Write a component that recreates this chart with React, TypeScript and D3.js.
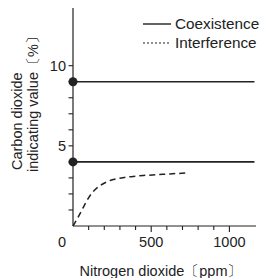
import React from "react";
import * as d3 from "d3";

const coexistenceLevels = [9, 4];
const interferenceX = [0, 30, 60, 90, 120, 150, 173, 205, 237, 280, 330, 385, 450, 538, 620, 718];
const interferenceY = [0, 0.5, 1.05, 1.6, 2.05, 2.35, 2.52, 2.7, 2.84, 2.95, 3.03, 3.09, 3.15, 3.2, 3.25, 3.3];
const xTickMajor = [0, 500, 1000];
const xTickMinor = [100, 200, 300, 400, 600, 700, 800, 900];
const yTickMajor = [5, 10];
const yTickMinor = [1, 2, 3, 4, 6, 7, 8, 9];
const legendLabels = ["Coexistence", "Interference"];

const W = 264;
const H = 278;
const FONT = "'Liberation Sans', Arial, sans-serif";
const FS = 14.5;
const INK = "#222";

export default function App() {
  const x = d3.scaleLinear().domain([0, 1170]).range([73, 256]);
  const y = d3.scaleLinear().domain([0, 13.6]).range([226, 8]);

  const curveData: [number, number][] = interferenceX.map((v, i) => [v, interferenceY[i]]);
  const linePath = d3
    .line<[number, number]>()
    .x((d) => x(d[0]))
    .y((d) => y(d[1]))
    .curve(d3.curveMonotoneX)(curveData) as string;

  const lineEnd = 1160;

  return (
    <svg
      width={W}
      height={H}
      style={{ position: "absolute", left: 0, top: 0, background: "#fff" }}
      fontFamily={FONT}
    >
      <rect x={0} y={0} width={W} height={H} fill="#fff" />
      {/* axes */}
      <line x1={x(0)} x2={x(0)} y1={y(0)} y2={y(13.6)} stroke={INK} strokeWidth={1.2} />
      <line x1={x(0)} x2={x(1170)} y1={y(0)} y2={y(0)} stroke={INK} strokeWidth={1.2} />
      {yTickMinor.concat(yTickMajor).map((t) => (
        <line key={"yt" + t} x1={x(0) - 4.5} x2={x(0)} y1={y(t)} y2={y(t)} stroke={INK} strokeWidth={1.1} />
      ))}
      {yTickMajor.map((t) => (
        <text key={"yl" + t} x={x(0) - 7} y={y(t)} dy="0.36em" textAnchor="end" fontSize={FS} fill={INK}>
          {t}
        </text>
      ))}
      {xTickMinor.map((t) => (
        <line key={"xt" + t} x1={x(t)} x2={x(t)} y1={y(0)} y2={y(0) + 4} stroke={INK} strokeWidth={1.1} />
      ))}
      {xTickMajor
        .filter((t) => t > 0)
        .map((t) => (
          <line key={"xT" + t} x1={x(t)} x2={x(t)} y1={y(0)} y2={y(0) + 6} stroke={INK} strokeWidth={1.1} />
        ))}
      {xTickMajor.map((t) => (
        <text
          key={"xl" + t}
          x={t === 0 ? x(0) - 11 : x(t)}
          y={247}
          textAnchor="middle"
          fontSize={FS}
          fill={INK}
        >
          {t}
        </text>
      ))}
      {/* axis titles */}
      <text x={161} y={276} textAnchor="middle" fontSize={FS} fill={INK}>
        Nitrogen dioxide〔ppm〕
      </text>
      <text transform="translate(22,170) rotate(-90)" fontSize={FS} fill={INK}>
        Carbon dioxide
      </text>
      <text transform="translate(38,172) rotate(-90)" fontSize={FS} fill={INK}>
        indicating value〔%〕
      </text>
      {/* coexistence lines */}
      {coexistenceLevels.map((v) => (
        <g key={"c" + v}>
          <line x1={x(0)} x2={x(lineEnd)} y1={y(v)} y2={y(v)} stroke={INK} strokeWidth={1.6} />
          <circle cx={x(0)} cy={y(v)} r={4.5} fill={INK} />
        </g>
      ))}
      {/* interference curve */}
      <path d={linePath} fill="none" stroke={INK} strokeWidth={1.5} strokeDasharray="6,4" />
      {/* legend */}
      <line x1={143} x2={171} y1={24} y2={24} stroke={INK} strokeWidth={1.4} />
      <text x={175} y={29} fontSize={15.3} fill={INK}>
        {legendLabels[0]}
      </text>
      <line x1={143} x2={171} y1={43} y2={43} stroke={INK} strokeWidth={1.2} strokeDasharray="2,2" />
      <text x={175} y={48} fontSize={15.3} fill={INK}>
        {legendLabels[1]}
      </text>
    </svg>
  );
}
